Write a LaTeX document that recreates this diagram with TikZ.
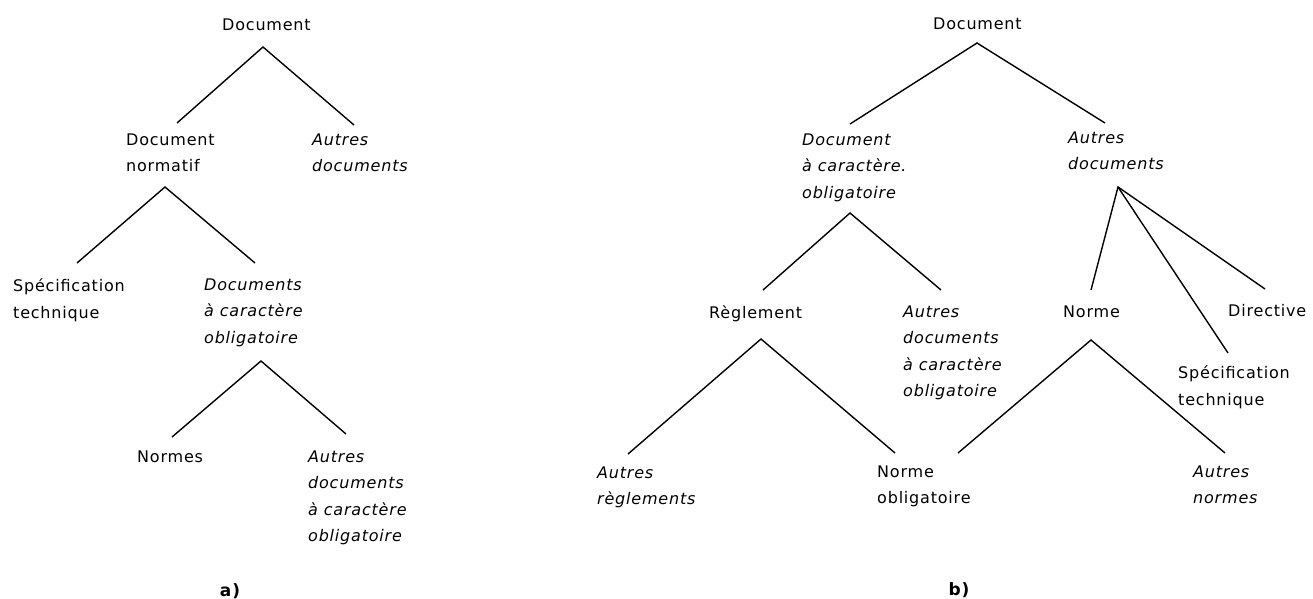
\documentclass[tikz,border=0pt]{standalone}
\usepackage{fontspec}
\setmainfont{DejaVu Sans}[LetterSpace=5, ItalicFont={DejaVu Sans Oblique}, BoldFont={DejaVu Sans Bold}]
\usepackage{tikz}

\begin{document}
\begin{tikzpicture}[x=1pt, y=-1pt, every node/.style={anchor=north west, inner sep=0pt, align=left, font=\fontsize{16}{26.5}\selectfont},
  others/.style={font=\fontsize{16}{26.5}\selectfont\itshape},
  caption/.style={anchor=center, font=\fontsize{17}{20}\selectfont\bfseries},
  branch/.style={line width=1.4pt, line join=miter}]

\useasboundingbox (0,0) rectangle (1313,599);

  % Tree a)
  \node (docA) at (222,19) {Document};
  \node (normA) at (126,133.5) {Document\\normatif};
  \node (autA) [others] at (312,133.5) {Autres\\documents};
  \node (specA) at (13,278.5) {Spécification\\technique};
  \node (oblA) [others] at (204,278.5) {Documents\\à caractère\\obligatoire};
  \node (normesA) at (137,450.5) {Normes};
  \node (autoblA) [others] at (308,450.5) {Autres\\documents\\à caractère\\obligatoire};
  \node (labA) [caption] at (230,591) {a)};

  \draw[branch] ([shift={(51,-10.5)}]normA.north west) -- ([shift={(41,28)}]docA.north west) -- ([shift={(42,-8.5)}]autA.north west);
  \draw[branch] ([shift={(64,-15.5)}]specA.north west) -- ([shift={(39,53.5)}]normA.north west) -- ([shift={(51,-15.5)}]oblA.north west);
  \draw[branch] ([shift={(35,-13.5)}]normesA.north west) -- ([shift={(57,82.5)}]oblA.north west) -- ([shift={(38,-16.5)}]autoblA.north west);

  % Tree b)
  \node (docB) at (933,18) {Document};
  \node (cobB) [others] at (802,133.5) {Document\\à caractère.\\obligatoire};
  \node (autB) [others] at (1068,131.5) {Autres\\documents};
  \node (regB) at (709,305.5) {Règlement};
  \node (autoblB) [others] at (903,305.5) {Autres\\documents\\à caractère\\obligatoire};
  \node (normeB) at (1063,305.5) {Norme};
  \node (dirB) at (1228,304.5) {Directive};
  \node (specB) at (1178,365.5) {Spécification\\technique};
  \node (autregB) [others] at (597,466.5) {Autres\\règlements};
  \node (normobB) at (877,465.5) {Norme\\obligatoire};
  \node (autnormB) [others] at (1193,465.5) {Autres\\normes};
  \node (labB) [caption] at (959,590) {b)};

  \draw[branch] ([shift={(48,-9.5)}]cobB.north west) -- ([shift={(44,25)}]docB.north west) -- ([shift={(37,-8.5)}]autB.north west);
  \draw[branch] ([shift={(54,-15.5)}]regB.north west) -- ([shift={(48,79.5)}]cobB.north west) -- ([shift={(38,-15.5)}]autoblB.north west);
  \draw[branch] ([shift={(28,-15.5)}]normeB.north west) -- ([shift={(50,55.5)}]autB.north west) -- ([shift={(37,-15.5)}]dirB.north west);
  \draw[branch] ([shift={(50,55.5)}]autB.north west) -- ([shift={(50,-12.5)}]specB.north west);
  \draw[branch] ([shift={(31,-12.5)}]autregB.north west) -- ([shift={(52,33.5)}]regB.north west) -- ([shift={(18,-12.5)}]normobB.north west);
  \draw[branch] ([shift={(81,-12.5)}]normobB.north west) -- ([shift={(28,34.5)}]normeB.north west) -- ([shift={(32,-12.5)}]autnormB.north west);

\end{tikzpicture}
\end{document}
